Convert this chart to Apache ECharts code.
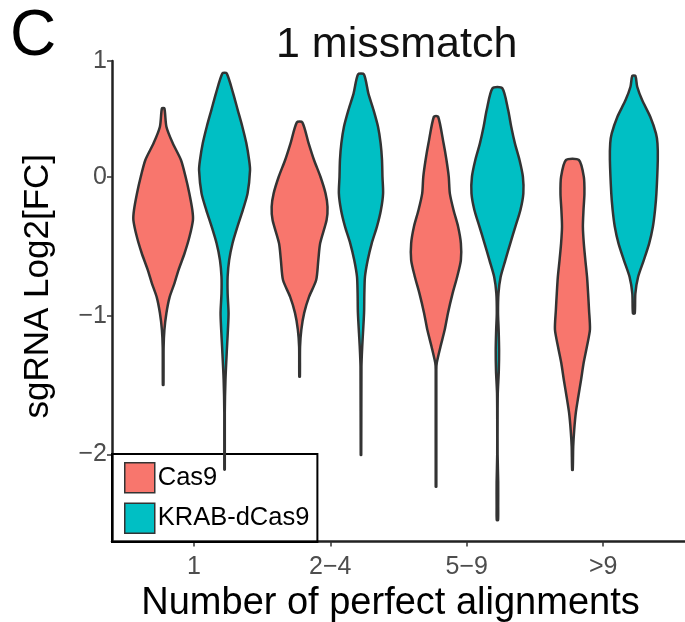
<!DOCTYPE html>
<html>
<head>
<meta charset="utf-8">
<script src="https://cdn.jsdelivr.net/npm/echarts@6/dist/echarts.min.js"></script>
<style>
  html, body { margin: 0; padding: 0; background: #fff; }
  #chart { width: 685px; height: 622px; }
</style>
</head>
<body>
<div id="chart"></div>
<script>
// categories on the x axis
var categories = ['1', '2\u22124', '5\u22129', '>9'];
var seriesNames = ['Cas9', 'KRAB-dCas9'];

// y ticks (the top tick sits at the panel edge, as in the original figure)
var yTickValues = [-2, -1, 0, 0.837];
var yTickLabels = ['\u22122', '\u22121', '0', '1'];

// violin outlines: [log2FC, relative density], top to bottom
var cas9_1 = [[0.495,0.04],[0.363,0.106],[0.245,0.31],[0.123,0.58],[0.002,0.73],[-0.115,0.85],[-0.238,0.95],[-0.31,0.97],[-0.433,0.855],[-0.548,0.70],[-0.671,0.50],[-0.765,0.37],[-0.866,0.21],[-0.981,0.106],[-1.104,0.04],[-1.226,0.015],[-1.50,0.01]];
var cas9_2_4 = [[0.395,0.09],[0.243,0.295],[0.123,0.47],[0.002,0.68],[-0.118,0.845],[-0.214,0.91],[-0.31,0.88],[-0.478,0.67],[-0.599,0.61],[-0.743,0.54],[-0.863,0.31],[-0.98,0.15],[-1.10,0.057],[-1.226,0.015],[-1.44,0.01]];
var cas9_5_9 = [[0.435,0.07],[0.243,0.246],[0.123,0.34],[0.002,0.415],[-0.118,0.45],[-0.238,0.57],[-0.358,0.72],[-0.478,0.81],[-0.599,0.81],[-0.719,0.69],[-0.839,0.54],[-0.98,0.39],[-1.10,0.285],[-1.224,0.145],[-1.34,0.025],[-1.39,0.01],[-2.234,0.01]];
var cas9_gt9 = [[0.123,0.21],[0.002,0.37],[-0.118,0.39],[-0.238,0.36],[-0.358,0.34],[-0.478,0.37],[-0.599,0.42],[-0.719,0.475],[-0.839,0.51],[-0.959,0.54],[-1.10,0.57],[-1.224,0.47],[-1.34,0.365],[-1.464,0.28],[-1.585,0.19],[-1.70,0.11],[-1.825,0.057],[-1.945,0.025],[-2.113,0.01]];

var krab_1 = [[0.748,0.07],[0.604,0.28],[0.483,0.43],[0.363,0.58],[0.243,0.71],[0.123,0.80],[0.05,0.83],[-0.118,0.75],[-0.238,0.595],[-0.358,0.42],[-0.478,0.26],[-0.599,0.15],[-0.719,0.10],[-0.839,0.10],[-0.98,0.13],[-1.10,0.11],[-1.226,0.08],[-1.46,0.03],[-1.70,0.008],[-2.11,0.008]];
var krab_2_4 = [[0.74,0.096],[0.604,0.24],[0.483,0.41],[0.363,0.555],[0.243,0.64],[0.123,0.685],[0.0,0.70],[-0.118,0.72],[-0.238,0.65],[-0.358,0.52],[-0.478,0.35],[-0.599,0.22],[-0.719,0.13],[-0.839,0.11],[-0.98,0.10],[-1.226,0.04],[-1.37,0.015],[-2.005,0.008]];
var krab_5_9 = [[0.64,0.16],[0.483,0.35],[0.363,0.45],[0.243,0.57],[0.123,0.72],[0.002,0.83],[-0.118,0.845],[-0.238,0.75],[-0.358,0.585],[-0.478,0.42],[-0.599,0.26],[-0.719,0.106],[-0.839,0.035],[-0.98,0.02],[-1.10,0.04],[-1.25,0.055],[-1.40,0.045],[-1.56,0.012],[-1.75,0.006],[-2.0,0.006],[-2.2,0.025],[-2.38,0.025],[-2.474,0.02]];
var krab_gt9 = [[0.73,0.05],[0.651,0.11],[0.555,0.27],[0.435,0.535],[0.315,0.72],[0.243,0.77],[0.123,0.78],[-0.118,0.735],[-0.238,0.69],[-0.358,0.62],[-0.478,0.50],[-0.599,0.325],[-0.719,0.14],[-0.839,0.05],[-0.983,0.03]];

var cas9Violins = [cas9_1, cas9_2_4, cas9_5_9, cas9_gt9];
var krabViolins = [krab_1, krab_2_4, krab_5_9, krab_gt9];

var colors = ['#F8766D', '#00BFC4'];
var outline = '#333333';
var dodge = 0.225;     // half of the dodge width (0.9 / 4)
var halfMax = 0.225;   // half width of a violin at density 1
var font = 'Liberation Sans, Arial, sans-serif';

function violinItem(profiles, offset, color) {
    return function (params, api) {
        var idx = api.value(0);
        var prof = profiles[idx - 1];
        var xc = idx + offset;
        var right = [], left = [];
        for (var i = 0; i < prof.length; i++) {
            right.push(api.coord([xc + prof[i][1] * halfMax, prof[i][0]]));
            left.push(api.coord([xc - prof[i][1] * halfMax, prof[i][0]]));
        }
        return {
            type: 'polygon',
            shape: { points: right.concat(left.reverse()), smooth: 0.25 },
            style: { fill: color, stroke: outline, lineWidth: 2.5 }
        };
    };
}

var catData = [];
for (var c = 0; c < categories.length; c++) { catData.push([c + 1, 0]); }

var myChart = echarts.init(document.getElementById('chart'));
var option = {
    backgroundColor: '#fff',
    animation: false,
    title: [
        { text: 'C', left: 5, top: 0, textStyle: { fontFamily: font, fontSize: 64, fontWeight: 'normal', color: '#000' } },
        { text: '1 missmatch', left: 271, top: 19, textStyle: { fontFamily: font, fontSize: 43, fontWeight: 'normal', color: '#111' } }
    ],
    grid: { left: 112, right: 0, top: 61, bottom: 80.5, containLabel: false, outerBoundsMode: 'none' },
    legend: {
        data: seriesNames,
        orient: 'vertical',
        left: 112,
        top: 454,
        z: 1,
        padding: [8, 8, 8, 12],
        itemGap: 9,
        itemWidth: 30,
        itemHeight: 30,
        icon: 'rect',
        borderColor: '#000',
        borderWidth: 2,
        borderRadius: 0,
        itemStyle: { borderColor: outline, borderWidth: 1.5 },
        textStyle: { fontFamily: font, fontSize: 25.5, color: '#000', padding: [0, 0, 0, -2] }
    },
    xAxis: {
        type: 'value',
        min: 0.4,
        max: 4.6,
        name: 'Number of perfect alignments',
        nameLocation: 'middle',
        nameGap: 39,
        nameTextStyle: { fontFamily: font, fontSize: 38, color: '#000', padding: [0, 16, 0, 0] },
        splitLine: { show: false },
        axisLine: { show: true, onZero: false, lineStyle: { color: '#222', width: 2.5 } },
        axisTick: { show: true, length: 5, customValues: [1, 2, 3, 4], lineStyle: { color: '#333', width: 1.5 } },
        axisLabel: {
            customValues: [1, 2, 3, 4],
            margin: 13,
            fontFamily: font, fontSize: 25, color: '#4D4D4D',
            formatter: function (v) { return categories[Math.round(v) - 1]; }
        }
    },
    yAxis: {
        type: 'value',
        min: -2.629,
        max: 0.837,
        name: 'sgRNA Log2[FC]',
        nameLocation: 'middle',
        nameGap: 56,
        nameTextStyle: { fontFamily: font, fontSize: 35, color: '#000', padding: [0, 0, 0, 30] },
        splitLine: { show: false },
        axisLine: { show: true, onZero: false, lineStyle: { color: '#222', width: 2.5 } },
        axisTick: { show: true, length: 5, customValues: yTickValues, lineStyle: { color: '#333', width: 1.5 } },
        axisLabel: {
            customValues: yTickValues,
            margin: 5,
            fontFamily: font, fontSize: 25, color: '#4D4D4D',
            formatter: function (v) {
                for (var i = 0; i < yTickValues.length; i++) {
                    if (Math.abs(yTickValues[i] - v) < 1e-6) { return yTickLabels[i]; }
                }
                return '';
            }
        }
    },
    series: [
        {
            name: seriesNames[0],
            type: 'custom',
            z: 2,
            clip: false,
            itemStyle: { color: colors[0], borderColor: outline },
            renderItem: violinItem(cas9Violins, -dodge, colors[0]),
            data: catData
        },
        {
            name: seriesNames[1],
            type: 'custom',
            z: 2,
            clip: false,
            itemStyle: { color: colors[1], borderColor: outline },
            renderItem: violinItem(krabViolins, dodge, colors[1]),
            data: catData
        }
    ]
};
myChart.setOption(option);
window.onresize = myChart.resize;
</script>
</body>
</html>
